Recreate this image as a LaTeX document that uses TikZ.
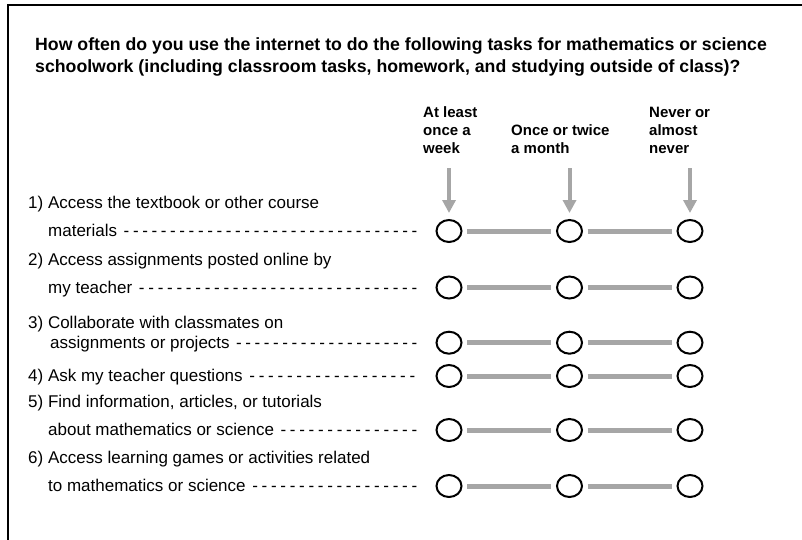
\documentclass[tikz,border=0pt]{standalone}
\usepackage{fontspec}
\setmainfont{Liberation Sans}
\usetikzlibrary{arrows.meta,shapes.geometric}
\definecolor{barg}{HTML}{A6A6A6}
\newcommand\dashfill{\xleaders\hbox to 9.2pt{\hss-\hss}\hfill}
\begin{document}
\begin{tikzpicture}[x=1pt,y=-1pt,
  titletext/.style={anchor=base west, inner sep=0pt, font=\fontsize{17.7}{21}\selectfont\bfseries},
  headtext/.style={anchor=base west, inner sep=0pt, align=left, font=\fontsize{15}{18}\selectfont\bfseries},
  itemtext/.style={anchor=base west, inner sep=0pt, font=\fontsize{17}{20}\selectfont},
  radio/.style={draw, line width=2pt, ellipse, minimum width=25pt, minimum height=22pt, inner sep=0pt},
  bar/.style={draw=barg, line width=5pt, shorten >=5pt, shorten <=4.5pt},
  pointer/.style={draw=barg, line width=4pt, -{Triangle[width=13pt,length=13pt]}},
  frame/.style={draw, line width=2pt}]
\useasboundingbox (0,0) rectangle (802,539);
% frame
\coordinate (fbl) at (8,540);
\coordinate (ftl) at (8,5);
\coordinate (ftr) at (803,5);
\draw[frame] (fbl) -- (ftl) -- (ftr);
% title
\node[titletext] (t1) at (35,50.5) {How often do you use the internet to do the following tasks for mathematics or science};
\node[titletext] (t2) at (35,72) {schoolwork (including classroom tasks, homework, and studying outside of class)?};
% column headers
\node[headtext] (h1a) at (423,117) {At least};
\node[headtext] (h1b) at (423,135) {once a};
\node[headtext] (h1c) at (423,153) {week};
\node[headtext] (h2a) at (511,135) {Once or twice};
\node[headtext] (h2b) at (511,153) {a month};
\node[headtext] (h3a) at (649,117) {Never or};
\node[headtext] (h3b) at (649,135) {almost};
\node[headtext] (h3c) at (649,153) {never};
% radio buttons
\foreach \r/\y in {1/231,2/287.5,3/342.7,4/376,5/430,6/486}{
  \node[radio] (c\r1) at (449,\y) {};
  \node[radio] (c\r2) at (569.5,\y) {};
  \node[radio] (c\r3) at (690,\y) {};
  \draw[bar] (c\r1) -- (c\r2);
  \draw[bar] (c\r2) -- (c\r3);
}
% pointers
\coordinate (p1) at (449,168);
\coordinate (p2) at (569.5,168);
\coordinate (p3) at (690,168);
\draw[pointer] (p1) -- ([yshift=6pt]c11.north);
\draw[pointer] (p2) -- ([yshift=6pt]c12.north);
\draw[pointer] (p3) -- ([yshift=6pt]c13.north);
% item labels
\node[itemtext] (l1a) at (28,208.5) {1) Access the textbook or other course};
\node[itemtext] (l1b) at (48,236.5) {\makebox[371pt][l]{materials \dashfill}};
\node[itemtext] (l2a) at (28,265) {2) Access assignments posted online by};
\node[itemtext] (l2b) at (48,293) {\makebox[371pt][l]{my teacher \dashfill}};
\node[itemtext] (l3a) at (28,328.2) {3) Collaborate with classmates on};
\node[itemtext] (l3b) at (50,348.2) {\makebox[369pt][l]{assignments or projects \dashfill}};
\node[itemtext] (l4a) at (28,381.5) {\makebox[389pt][l]{4) Ask my teacher questions \dashfill}};
\node[itemtext] (l5a) at (28,407.5) {5) Find information, articles, or tutorials};
\node[itemtext] (l5b) at (48,435.5) {\makebox[371pt][l]{about mathematics or science \dashfill}};
\node[itemtext] (l6a) at (28,463.5) {6) Access learning games or activities related};
\node[itemtext] (l6b) at (48,491.5) {\makebox[371pt][l]{to mathematics or science \dashfill}};
\end{tikzpicture}
\end{document}
